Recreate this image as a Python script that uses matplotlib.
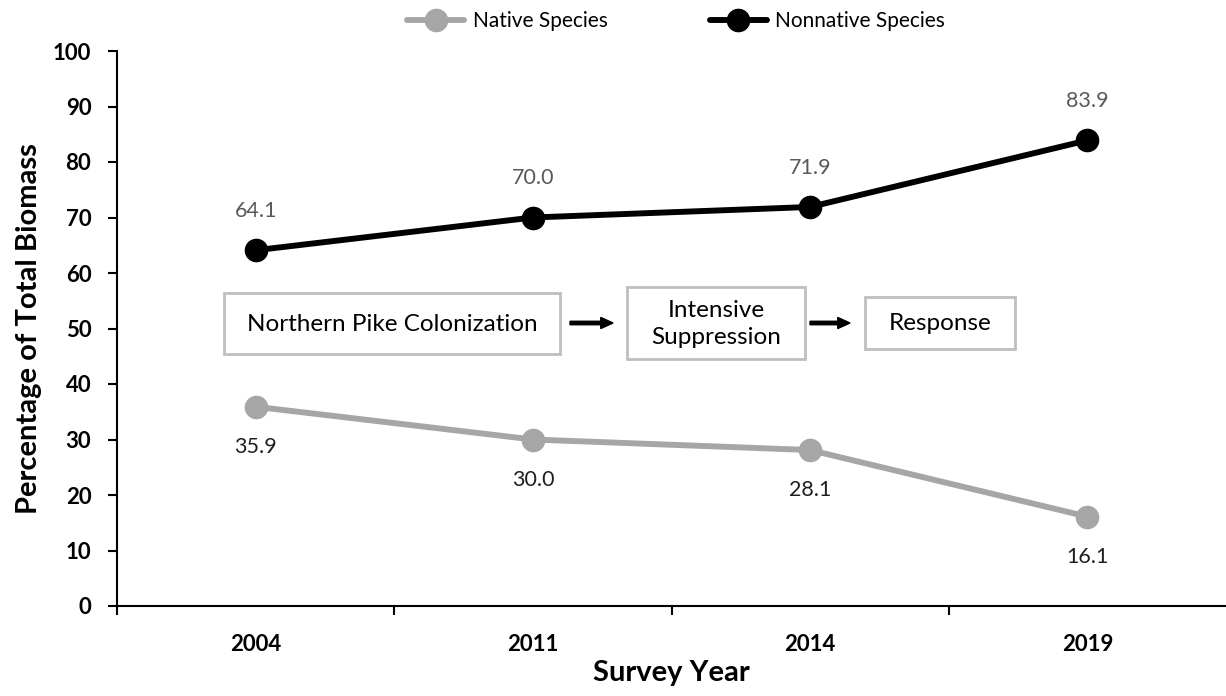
import matplotlib
matplotlib.use("Agg")
import matplotlib.pyplot as plt
from matplotlib.patches import Rectangle, FancyArrow

plt.rcParams['font.family'] = ['Lato', 'DejaVu Sans']

years = ["2004", "2011", "2014", "2019"]
native = [35.9, 30.0, 28.1, 16.1]
nonnative = [64.1, 70.0, 71.9, 83.9]
stages = ["Northern Pike Colonization", "Intensive\nSuppression", "Response"]

W, H = 1226, 696
fig = plt.figure(figsize=(W / 100, H / 100), dpi=100)
ax = fig.add_axes([117 / W, 1 - 606 / H, 1 - 117 / W, (606 - 51) / H])

x = list(range(len(years)))
ax.plot(x, native, color="#A6A6A6", lw=4.25, marker="o", ms=16, label="Native Species",
        solid_capstyle="round", zorder=3)
ax.plot(x, nonnative, color="black", lw=4.25, marker="o", ms=16, label="Nonnative Species",
        solid_capstyle="round", zorder=3)

for xi, v in zip(x, nonnative):
    ax.annotate(f"{v:.1f}", (xi, v), xytext=(0, 39), textcoords="offset pixels",
                ha="center", va="center", fontsize=15.5, color="#595959")
for xi, v in zip(x, native):
    ax.annotate(f"{v:.1f}", (xi, v), xytext=(0, -40), textcoords="offset pixels",
                ha="center", va="center", fontsize=15.5, color="#1f1f1f")

ax.set_xlim(-0.5, 3.5)
ax.set_ylim(0, 100)
ax.set_yticks(range(0, 101, 10))
ax.set_xticks(x)
ax.set_xticklabels(years)
ax.set_xticks([-0.5, 0.5, 1.5, 2.5], minor=True)
ax.tick_params(axis="x", which="major", length=0, pad=20)
ax.tick_params(axis="x", which="minor", length=6.5, width=1.5, direction="out")
ax.tick_params(axis="y", length=6.5, width=1.5, direction="out", pad=12)
for lab in ax.get_xticklabels() + ax.get_yticklabels():
    lab.set_fontweight("bold")
    lab.set_fontsize(16)

for side in ("top", "right"):
    ax.spines[side].set_visible(False)
for side in ("left", "bottom"):
    ax.spines[side].set_linewidth(1.5)

ax.set_xlabel("Survey Year", fontsize=21, fontweight="bold")
ax.set_ylabel("Percentage of Total Biomass", fontsize=21, fontweight="bold")
ax.xaxis.label.set_va("center")
ax.yaxis.label.set_va("center")
ax.xaxis.set_label_coords(0.5, (606 - 673) / 555)
ax.yaxis.set_label_coords((29 - 117) / (W - 117), 0.5)

leg = ax.legend(loc="center", bbox_to_anchor=((676 - 117) / (W - 117), (606 - 21) / 555),
                ncol=2, frameon=False, fontsize=15, handlelength=2.74,
                columnspacing=4.9, borderaxespad=0, handletextpad=0.4, borderpad=0)


def px(xp, yp):
    return xp / W, 1 - yp / H


# process boxes drawn in figure pixel space
boxes = [(224, 293, 560, 354), (627, 287, 805, 359), (865, 297, 1015, 349)]
for (x0, y0, x1, y1), text in zip(boxes, stages):
    fx0, fy1 = px(x0, y0)
    fx1, fy0 = px(x1, y1)
    fig.add_artist(Rectangle((fx0, fy0), fx1 - fx0, fy1 - fy0, transform=fig.transFigure,
                             facecolor="white", edgecolor="#BFBFBF", lw=2))
    cx, cy = px((x0 + x1) / 2, (y0 + y1) / 2 + 1)
    fig.text(cx, cy, text, ha="center", va="center", fontsize=17.5, color="black",
             linespacing=1.35)

for xa, xb in [(570, 613), (810, 850)]:
    ax0, ay = px(xa, 323)
    ax1, _ = px(xb, 323)
    fig.add_artist(FancyArrow(ax0, ay, ax1 - ax0, 0, width=0.005, head_width=0.016,
                              head_length=0.01, length_includes_head=True,
                              transform=fig.transFigure, color="black"))

fig.savefig("out.png", dpi=100)
